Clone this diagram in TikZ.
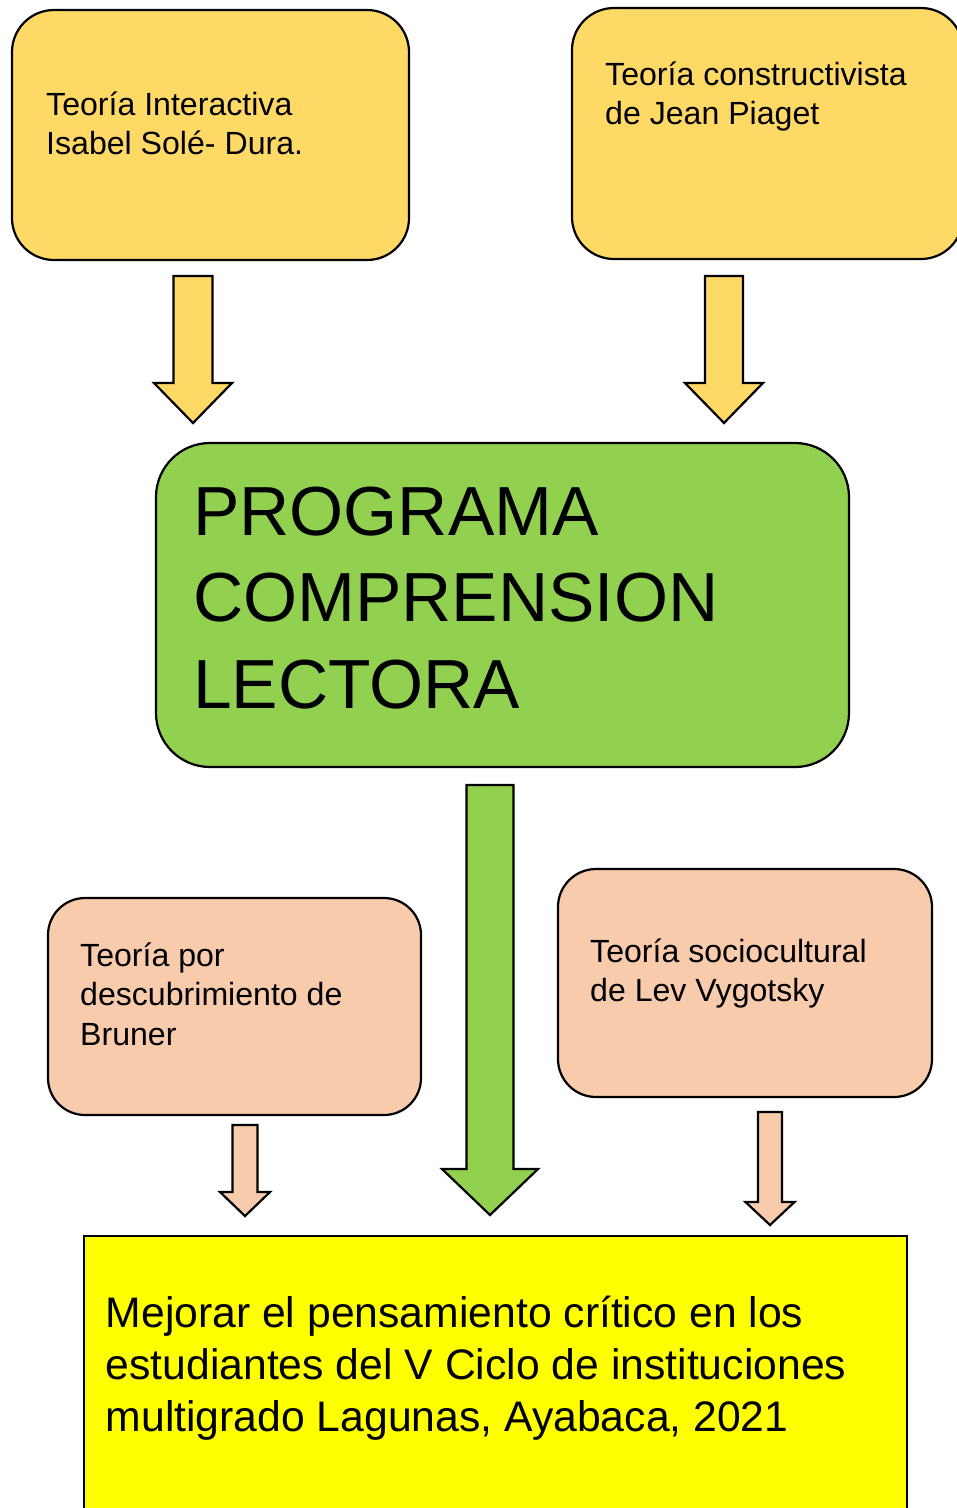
\documentclass[tikz,border=0pt]{standalone}
\usepackage{fontspec}
\setmainfont{Liberation Sans}
\definecolor{goldbox}{HTML}{FFD966}
\definecolor{greenbox}{HTML}{92D050}
\definecolor{peachbox}{HTML}{F8CBAD}
\definecolor{yellowbox}{HTML}{FFFF00}
\newcommand\blockarrow[7]{% style, cx, top, neck, tip, half shaft, half head
  \draw[#1] (#2-#6,#3) -- (#2+#6,#3) -- (#2+#6,#4) -- (#2+#7,#4) -- (#2,#5)
    -- (#2-#7,#4) -- (#2-#6,#4) -- cycle;}
\begin{document}
\begin{tikzpicture}[x=1pt,y=-1pt,
  box/.style={draw=black, line width=2.2pt, inner sep=0pt, outer sep=0pt, anchor=north west},
  arr/.style={draw=black, line width=2.2pt, line join=miter},
  smalltxt/.style={anchor=base west, align=left, inner sep=0pt, font=\fontsize{32.1}{39.5}\selectfont},
  bigtxt/.style={anchor=base west, align=left, inner sep=0pt, font=\fontsize{69.5}{86.5}\selectfont},
  midtxt/.style={anchor=base west, align=left, inner sep=0pt, font=\fontsize{42.7}{52}\selectfont}]
\useasboundingbox (0,0) rectangle (957,1508);

% boxes
\node[box, fill=goldbox, rounded corners=42, minimum width=397, minimum height=250] (b1) at (12,10) {};
\node[box, fill=goldbox, rounded corners=42, minimum width=391, minimum height=251] (b2) at (572,8) {};
\node[box, fill=greenbox, rounded corners=54, minimum width=693, minimum height=324] (g) at (156,443) {};
\node[box, fill=peachbox, rounded corners=37, minimum width=373, minimum height=217] (p1) at (48,898) {};
\node[box, fill=peachbox, rounded corners=38, minimum width=374, minimum height=228] (p2) at (558,869) {};
\node[box, fill=yellowbox, minimum width=823, minimum height=300] (y) at (84,1236) {};

% texts (anchor = baseline of the last line)
\node[smalltxt] (b1t) at (46,154.5) {Teoría Interactiva\\Isabel Solé- Dura.};
\node[smalltxt] (b2t) at (605,124.5) {Teoría constructivista\\de Jean Piaget};
\node[bigtxt] (gt) at (193,708) {PROGRAMA\\COMPRENSION\\LECTORA};
\node[smalltxt] (p1t) at (80,1045) {Teoría por\\descubrimiento de\\Bruner};
\node[smalltxt] (p2t) at (590,1001.5) {Teoría sociocultural\\de Lev Vygotsky};
\node[midtxt] (yt) at (105.5,1431) {Mejorar el pensamiento crítico en los\\estudiantes del V Ciclo de instituciones\\multigrado Lagunas, Ayabaca, 2021};

% block arrows
\blockarrow{arr, fill=goldbox}{193}{276}{383}{423}{19.5}{39}
\blockarrow{arr, fill=goldbox}{724}{276}{383}{423}{19}{39}
\blockarrow{arr, fill=greenbox}{490}{785}{1169}{1215}{23.5}{48}
\blockarrow{arr, fill=peachbox}{245}{1125}{1192}{1216}{12.5}{25}
\blockarrow{arr, fill=peachbox}{770}{1112}{1202}{1225}{12}{24.5}
\end{tikzpicture}
\end{document}
